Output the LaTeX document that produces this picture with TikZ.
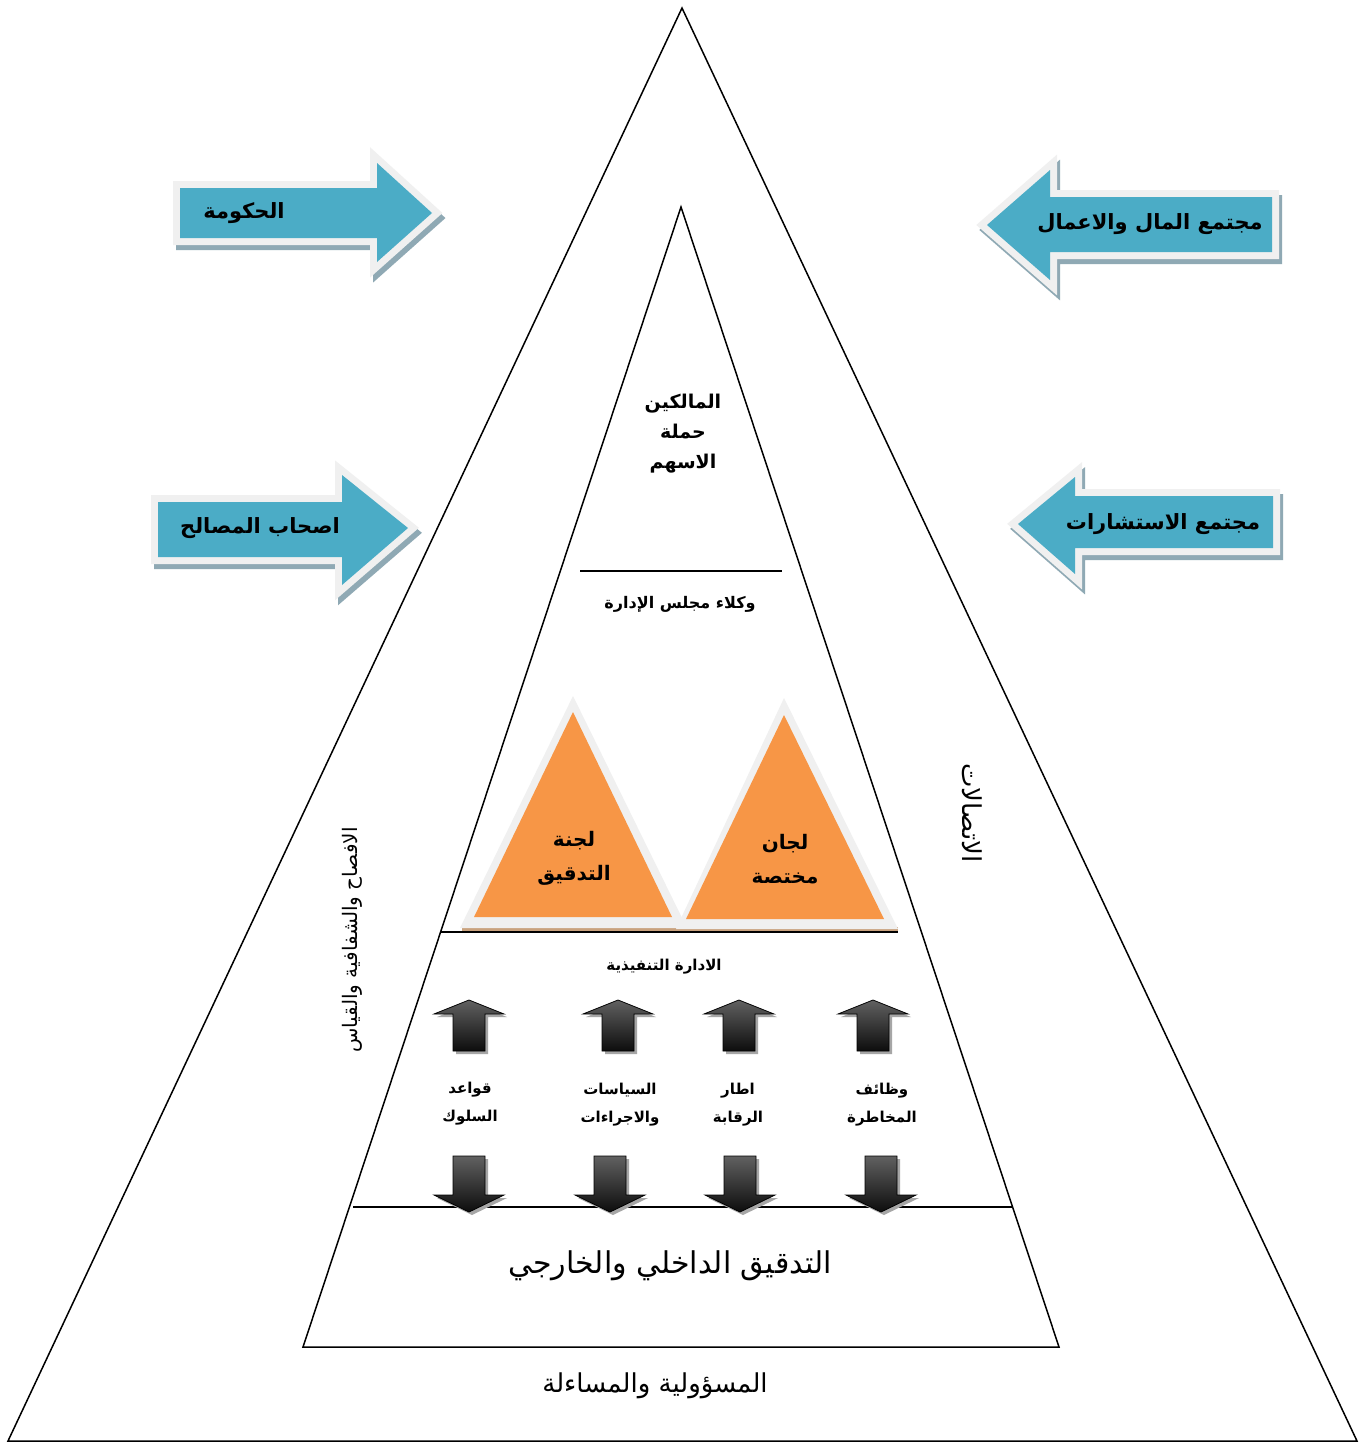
\documentclass[tikz,border=0pt]{standalone}
\usepackage{fontspec}
\newfontfamily\arabicfont[Script=Arabic]{DejaVu Sans}
\TeXXeTstate=1
\newcommand\AR[1]{\beginR #1\endR}
\definecolor{arrowblue}{HTML}{4BACC6}
\definecolor{bordergray}{HTML}{F0F0F0}
\definecolor{shadowblue}{HTML}{8FA9B4}
\definecolor{orangefill}{HTML}{F79646}
\definecolor{orangeshadow}{HTML}{C9A27E}
% arrow outline: #1 body end x, #2 head base x, #3 body top y, #4 body bottom y, #5 head top y, #6 head bottom y, #7 tip x, #8 tip y
\newcommand\arrowshape[8]{(#1,#3) -- (#2,#3) -- (#2,#5) -- (#7,#8) -- (#2,#6) -- (#2,#4) -- (#1,#4) -- cycle}
% dark vertical arrows
\newcommand\uparrowshape[1]{(#1,1000) -- (#1+35,1014) -- (#1+16,1014) -- (#1+16,1051) -- (#1-16,1051) -- (#1-16,1014) -- (#1-35,1014) -- cycle}
\newcommand\downarrowshape[1]{(#1-16,1156) -- (#1+16,1156) -- (#1+16,1195) -- (#1+35,1195) -- (#1,1212) -- (#1-35,1195) -- (#1-16,1195) -- cycle}
\tikzset{
  frame/.style={draw=black, line width=1.5pt, line join=miter},
  sepline/.style={draw=black, line width=1.5pt},
  bluelbl/.style={font=\arabicfont\bfseries\fontsize{21}{26}\selectfont, inner sep=0pt},
  midlbl/.style={font=\arabicfont\bfseries\fontsize{16}{22}\selectfont, align=center, inner sep=0pt},
  bigbold/.style={font=\arabicfont\bfseries\fontsize{19}{30}\selectfont, align=center, inner sep=0pt},
  trilbl/.style={font=\arabicfont\bfseries\fontsize{20}{34}\selectfont, align=center, inner sep=0pt},
  smalllbl/.style={font=\arabicfont\bfseries\fontsize{15}{28}\selectfont, align=center, inner sep=0pt},
  plainlbl/.style={font=\arabicfont\fontsize{26}{30}\selectfont, inner sep=0pt},
  sidelbl/.style={font=\arabicfont\fontsize{20}{24}\selectfont, inner sep=0pt},
  bshadow/.style={fill=shadowblue, draw=shadowblue, line width=14pt, line join=miter},
  bborder/.style={fill=bordergray, draw=bordergray, line width=14pt, line join=miter},
  bfill/.style={fill=arrowblue},
  darkarrow/.style={top color=black!62, bottom color=black!95, draw=black, line width=0.8pt},
  darkshadow/.style={fill=black!35},
}
\begin{document}
\begin{tikzpicture}[x=1pt,y=-1pt]
\fill[white] (0,0) rectangle (1366,1443);
\useasboundingbox (0,0) rectangle (1366,1443);

% outer triangle
\draw[frame] (682,8) -- (1357,1441) -- (8,1441) -- cycle;
% inner triangle
\draw[frame] (681,207) -- (1059,1347) -- (303,1347) -- cycle;
% separators
\draw[sepline] (580,571) -- (782,571);
\draw[sepline] (353,1207) -- (1012,1207);

% ---------- blue arrows ----------
% arrow 1 (right)
\path[bshadow, shift={(3,5)}] \arrowshape{180}{377}{188}{238}{163}{262}{432}{213};
\path[bborder] \arrowshape{180}{377}{188}{238}{163}{262}{432}{213};
\fill[bfill] \arrowshape{180}{377}{188}{238}{163}{262}{432}{213};
\node[bluelbl] (gov) at (244,213) {\AR{الحكومة}};
% arrow 2 (left)
\path[bshadow, shift={(3,5)}] \arrowshape{1272}{1050}{197}{252}{170}{280}{987}{225};
\path[bborder] \arrowshape{1272}{1050}{197}{252}{170}{280}{987}{225};
\fill[bfill] \arrowshape{1272}{1050}{197}{252}{170}{280}{987}{225};
\node[bluelbl] (biz) at (1150,224) {\AR{مجتمع المال والاعمال}};
% arrow 3 (right)
\path[bshadow, shift={(3,5)}] \arrowshape{158}{342}{502}{557}{475}{585}{408}{528};
\path[bborder] \arrowshape{158}{342}{502}{557}{475}{585}{408}{528};
\fill[bfill] \arrowshape{158}{342}{502}{557}{475}{585}{408}{528};
\node[bluelbl] (stake) at (260,528) {\AR{اصحاب المصالح}};
% arrow 4 (left)
\path[bshadow, shift={(3,5)}] \arrowshape{1273}{1075}{496}{548}{477}{574}{1018}{524};
\path[bborder] \arrowshape{1273}{1075}{496}{548}{477}{574}{1018}{524};
\fill[bfill] \arrowshape{1273}{1075}{496}{548}{477}{574}{1018}{524};
\node[bluelbl] (consult) at (1163,524) {\AR{مجتمع الاستشارات}};

% ---------- top of inner triangle ----------
\node[bigbold] (owners) at (683,434) {\AR{المالكين}\\\AR{حملة}\\\AR{الاسهم}};
\node[midlbl] (board) at (680,604) {\AR{وكلاء مجلس الإدارة}};

% ---------- orange triangles ----------
\fill[orangeshadow] (462,926) -- (690,926) -- (690,932) -- (462,932) -- cycle;
\fill[orangeshadow] (680,927) -- (898,927) -- (898,932) -- (680,932) -- cycle;
\fill[bordergray] (573,696) -- (687,928) -- (460,928) -- cycle;
\fill[orangefill] (573,712) -- (672,917) -- (474,917) -- cycle;
\fill[bordergray] (784,698) -- (898,929) -- (676,929) -- cycle;
\fill[orangefill] (784,715) -- (884,919) -- (686,919) -- cycle;
\node[trilbl] (audit) at (574,858) {\AR{لجنة}\\\AR{التدقيق}};
\node[trilbl] (spec) at (785,859) {\AR{لجان}\\\AR{مختصة}};
\draw[sepline] (440,932) -- (898,932);

% ---------- executive management ----------
\node[smalllbl] (exec) at (664,967) {\AR{الادارة التنفيذية}};

% dark arrows
\foreach \cx in {469,618,739,873}{
  \fill[darkshadow, shift={(3,3)}] \uparrowshape{\cx};
  \path[darkarrow] \uparrowshape{\cx};
}
\foreach \cx in {469,610,740,881}{
  \fill[darkshadow, shift={(3,3)}] \downarrowshape{\cx};
  \path[darkarrow] \downarrowshape{\cx};
}
\node[smalllbl] (conduct) at (470,1104) {\AR{قواعد}\\\AR{السلوك}};
\node[smalllbl] (policy) at (620,1105) {\AR{السياسات}\\\AR{والاجراءات}};
\node[smalllbl] (control) at (738,1105) {\AR{اطار}\\\AR{الرقابة}};
\node[smalllbl] (risk) at (882,1105) {\AR{وظائف}\\\AR{المخاطرة}};

% ---------- bottom texts ----------
\node[plainlbl, font=\arabicfont\fontsize{30}{34}\selectfont] (intext) at (670,1266) {\AR{التدقيق الداخلي والخارجي}};
\node[plainlbl] (account) at (655,1386) {\AR{المسؤولية والمساءلة}};

% ---------- side texts ----------
\node[sidelbl, rotate=90] (disc) at (352,940) {\AR{الافصاح والشفافية والقياس}};
\node[sidelbl, rotate=-90, font=\arabicfont\fontsize{26}{30}\selectfont] (comm) at (972,813) {\AR{الاتصالات}};
\end{tikzpicture}
\end{document}
